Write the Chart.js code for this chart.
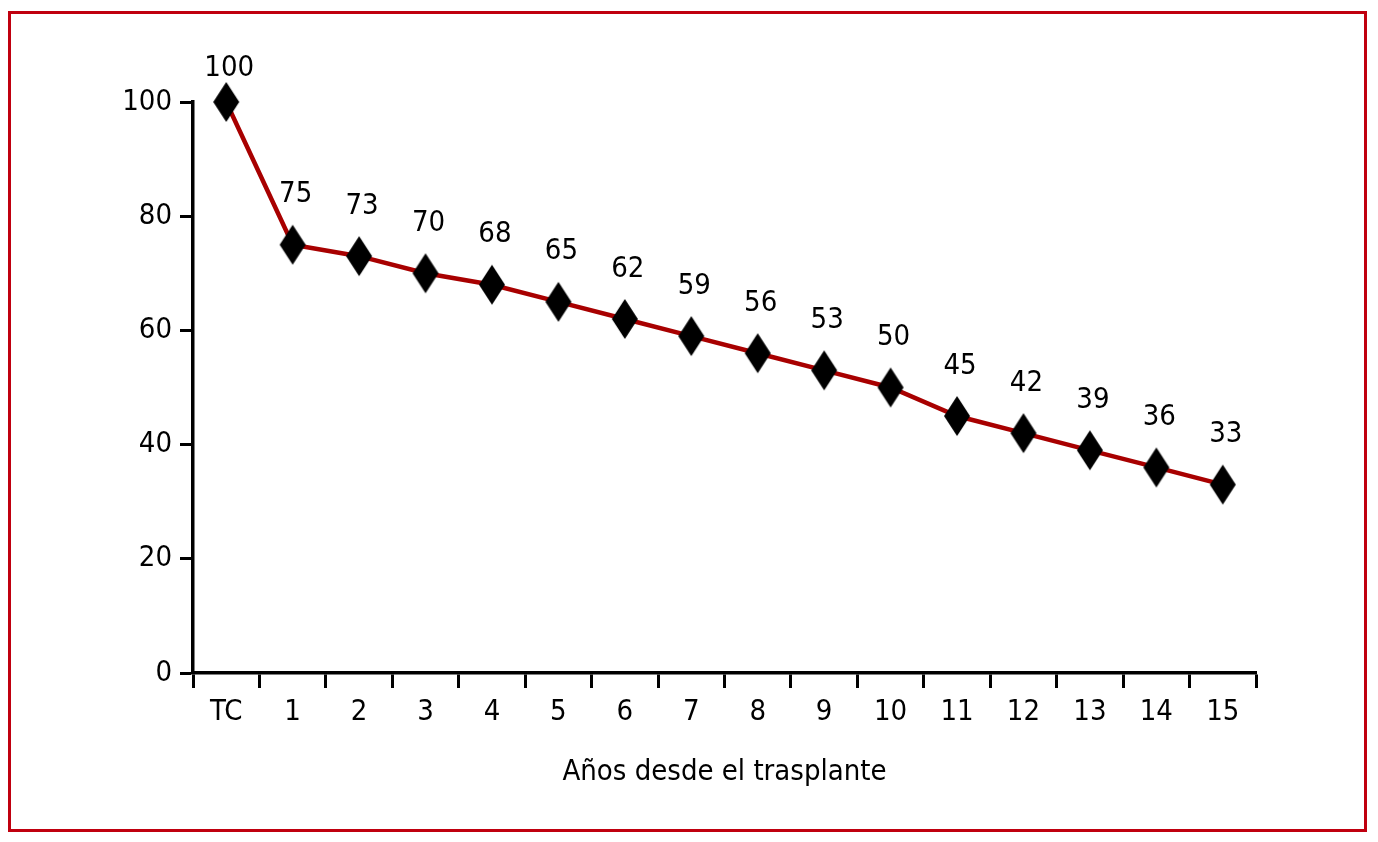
<!DOCTYPE html>
<html>
<head>
<meta charset="utf-8">
<script src="https://cdn.jsdelivr.net/npm/chart.js@4.4.1/dist/chart.umd.min.js"></script>
<style>
  html, body { margin: 0; padding: 0; background: #fff; }
  #wrap { position: relative; width: 1378px; height: 842px; }
  #frame { position: absolute; left: 8px; top: 11px; width: 1353px; height: 815px; border: 3px solid #c0000f; pointer-events: none; }
  canvas { position: absolute; left: 0; top: 0; }
</style>
</head>
<body>
<div id="wrap">
  <canvas id="c" width="1378" height="842"></canvas>
  <div id="frame"></div>
</div>
<script>
const categories = ['TC','1','2','3','4','5','6','7','8','9','10','11','12','13','14','15'];
const survival = [100, 75, 73, 70, 68, 65, 62, 59, 56, 53, 50, 45, 42, 39, 36, 33];
const yTicks = [0, 20, 40, 60, 80, 100];
const xTitle = 'Años desde el trasplante';

const FONT = "'Liberation Sans Narrow', 'DejaVu Sans Condensed', 'Liberation Sans', sans-serif";
const FS = 29;

// elongated diamond marker
const diamond = document.createElement('canvas');
diamond.width = 28; diamond.height = 42;
(function(){
  const g = diamond.getContext('2d');
  g.fillStyle = '#000';
  g.beginPath();
  g.moveTo(14, 1); g.lineTo(27, 21); g.lineTo(14, 41); g.lineTo(1, 21);
  g.closePath(); g.fill();
})();

const valueLabels = {
  id: 'valueLabels',
  afterDatasetsDraw(chart) {
    const ctx = chart.ctx;
    const meta = chart.getDatasetMeta(0);
    ctx.save();
    ctx.font = FS + 'px ' + FONT;
    ctx.fillStyle = '#000';
    ctx.textAlign = 'center';
    ctx.textBaseline = 'middle';
    meta.data.forEach((pt, i) => {
      const off = i === 0 ? 34 : 50;
      ctx.fillText(String(survival[i]), pt.x + 3, pt.y - off);
    });
    ctx.restore();
  }
};

new Chart(document.getElementById('c'), {
  type: 'line',
  data: {
    labels: categories,
    datasets: [{
      data: survival,
      borderColor: '#a80000',
      borderWidth: 4.5,
      pointStyle: diamond,
      pointRadius: 13,
      pointHoverRadius: 13,
      tension: 0,
      fill: false,
      clip: false
    }]
  },
  options: {
    responsive: false,
    animation: false,
    events: [],
    layout: { padding: { left: 0, right: 122, top: 102, bottom: 39 } },
    plugins: { legend: { display: false }, tooltip: { enabled: false } },
    scales: {
      x: {
        type: 'category',
        offset: true,
        grid: { offset: true, drawOnChartArea: false, drawTicks: true, tickLength: 15, tickWidth: 3, color: '#000' },
        border: { display: true, color: '#000', width: 3.5 },
        ticks: { color: '#000', font: { family: FONT, size: FS }, padding: 7, maxRotation: 0, autoSkip: false },
        title: { display: true, text: xTitle, color: '#000', font: { family: FONT, size: FS }, padding: { top: 0, bottom: 13 } },
        afterFit(s) { s.height = 130; }
      },
      y: {
        min: 0, max: 100,
        afterBuildTicks(s) { s.ticks = yTicks.map(v => ({ value: v })); },
        grid: { drawOnChartArea: false, drawTicks: true, tickLength: 13, tickWidth: 3, color: '#000' },
        border: { display: true, color: '#000', width: 3.5 },
        ticks: { color: '#000', font: { family: FONT, size: FS }, padding: 8 },
        afterFit(s) { s.width = 193; }
      }
    }
  },
  plugins: [valueLabels]
});
</script>
</body>
</html>
